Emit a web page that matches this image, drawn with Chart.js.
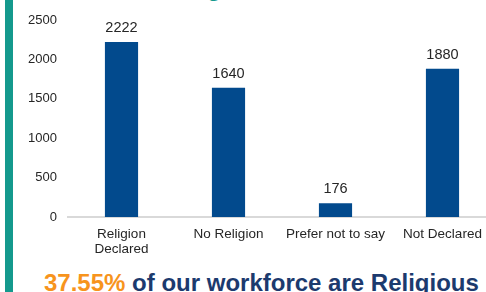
<!DOCTYPE html>
<html>
<head>
<meta charset="utf-8">
<script src="https://cdn.jsdelivr.net/npm/chart.js@4"></script>
<style>
  html, body { margin: 0; padding: 0; background: #fff; overflow: hidden; }
  body { width: 486px; height: 292px; position: relative; font-family: "Liberation Sans", Arial, sans-serif; }
  #sideBar { position: absolute; left: 5px; top: 0; width: 8px; height: 292px; background: #14998d; }
  #chartBox { position: absolute; left: 0; top: 0; width: 496px; height: 262px; }
  #titleFrag { position: absolute; left: 207px; top: -27px; font-size: 24px; line-height: 30px; font-weight: bold; color: #14998d; }
  #summary { position: absolute; left: 44px; top: 271px; font-size: 24px; line-height: 24px; font-weight: bold; color: #1c3a6e; white-space: nowrap; }
  #summary span { color: #f7941d; }
</style>
</head>
<body>
<div id="sideBar"></div>
<div id="titleFrag">g</div>
<div id="chartBox"><canvas id="religionChart"></canvas></div>
<div id="summary"><span>37.55%</span> of our workforce are Religious</div>
<script>
const categories = [["Religion", "Declared"], "No Religion", "Prefer not to say", "Not Declared"];
const headcount = [2222, 1640, 176, 1880];
const yTicks = [0, 500, 1000, 1500, 2000, 2500];

const barLabels = {
  id: "barLabels",
  afterDatasetsDraw(chart) {
    const ctx = chart.ctx;
    const meta = chart.getDatasetMeta(0);
    ctx.save();
    ctx.font = "14.5px 'Liberation Sans', Arial, sans-serif";
    ctx.fillStyle = "#262626";
    ctx.textAlign = "center";
    ctx.textBaseline = "alphabetic";
    meta.data.forEach((bar, i) => {
      ctx.fillText(headcount[i], bar.x, bar.y - 10);
    });
    ctx.restore();
  },
};

const ctx = document.getElementById("religionChart").getContext("2d");

new Chart(ctx, {
  type: "bar",
  data: {
    labels: categories,
    datasets: [
      {
        label: "Headcount",
        data: headcount,
        backgroundColor: "#024a8d",
        barPercentage: 0.62,
        categoryPercentage: 0.5,
      },
    ],
  },
  options: {
    responsive: true,
    maintainAspectRatio: false,
    animation: false,
    layout: { padding: { top: 20, left: 0, right: 0, bottom: 0 } },
    plugins: {
      legend: { display: false },
      tooltip: { enabled: false },
    },
    scales: {
      y: {
        min: 0,
        max: 2500,
        afterFit: (scale) => { scale.width = 68; },
        afterBuildTicks: (scale) => { scale.ticks = yTicks.map((v) => ({ value: v })); },
        grid: { display: false, drawTicks: false },
        border: { display: false },
        ticks: {
          color: "#262626",
          padding: 11,
          callback: (value) => String(value),
          font: { family: "'Liberation Sans', Arial, sans-serif", size: 13 },
        },
      },
      x: {
        afterFit: (scale) => { scale.height = 45; },
        grid: { display: false, drawTicks: false },
        border: { display: true, color: "#d9d9d9", width: 2 },
        ticks: {
          color: "#262626",
          padding: 10,
          maxRotation: 0,
          autoSkip: false,
          font: { family: "'Liberation Sans', Arial, sans-serif", size: 13.5, lineHeight: 1.11 },
        },
      },
    },
  },
  plugins: [barLabels],
});
</script>
</body>
</html>
